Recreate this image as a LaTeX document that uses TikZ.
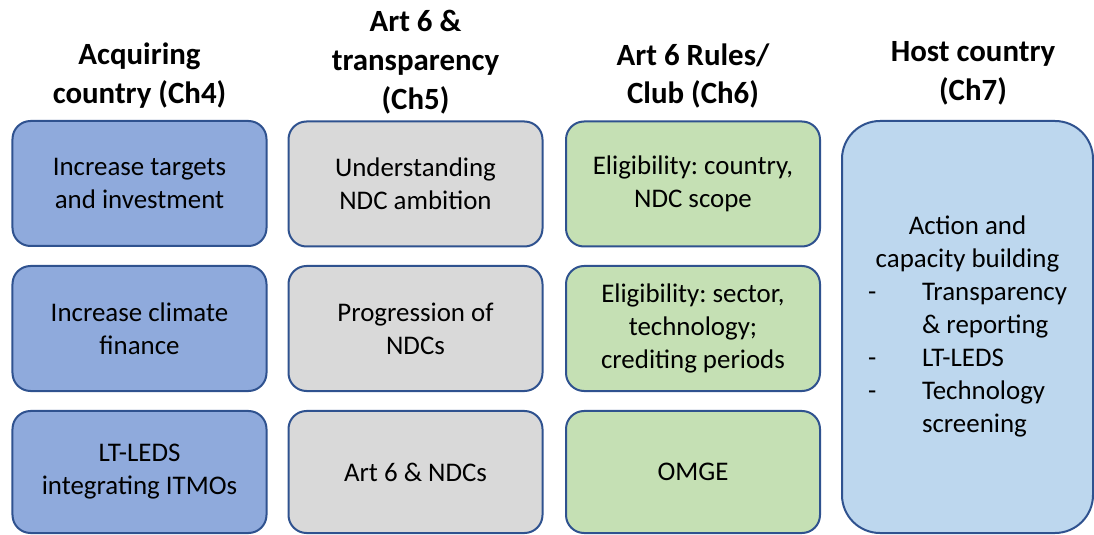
\documentclass[tikz,border=0pt]{standalone}
\usepackage{fontspec}
\setmainfont{Carlito}
\frenchspacing
\definecolor{bord}{HTML}{2F528F}
\definecolor{fblue}{HTML}{8FAADC}
\definecolor{fgray}{HTML}{D9D9D9}
\definecolor{fgreen}{HTML}{C5E0B4}
\definecolor{flight}{HTML}{BDD7EE}
\begin{document}
\begin{tikzpicture}[x=1bp,y=-1bp,
  box/.style={draw=bord, line width=2bp, rounded corners=18bp, align=center,
    inner sep=0pt, minimum width=254bp, minimum height=125bp,
    font=\fontsize{27}{33}\selectfont\frenchspacing},
  hostbox/.style={draw=bord, line width=2bp, rounded corners=38bp, align=center,
    inner sep=0pt, minimum width=251bp, minimum height=412bp,
    font=\fontsize{27}{33}\selectfont},
  head/.style={align=center, inner sep=0pt, font=\fontsize{31}{39}\bfseries\selectfont}]
\useasboundingbox (0,0) rectangle (1094,535);
% headers
\node[head] (h1) at (139.5,76) {Acquiring\\country (Ch4)};
\node[head] (h2) at (415.5,62) {Art 6 \&\\transparency\\(Ch5)};
\node[head] (h3) at (693,76) {Art 6 Rules/\\Club (Ch6)};
\node[head] (h4) at (973,73) {Host country\\(Ch7)};
% column 1
\node[box, fill=fblue] (a1) at (139.5,183.5) {Increase targets\\and investment};
\node[box, fill=fblue] (a2) at (139.5,328.5) {Increase climate\\finance};
\node[box, fill=fblue, minimum height=122bp] (a3) at (139.5,472) {LT-LEDS\\integrating ITMOs};
% column 2
\node[box, fill=fgray] (b1) at (415.5,184) {Understanding\\NDC ambition};
\node[box, fill=fgray] (b2) at (415.5,328.5) {Progression of\\NDCs};
\node[box, fill=fgray, minimum height=122bp] (b3) at (415.5,472) {Art 6 \& NDCs};
% column 3
\node[box, fill=fgreen] (c1) at (693,184) {Eligibility: country,\\NDC scope};
\node[box, fill=fgreen] (c2) at (693,328.5) {Eligibility: sector,\\technology;\\crediting periods};
\node[box, fill=fgreen, minimum height=122bp] (c3) at (693,472) {OMGE};
% column 4
\node[hostbox, fill=flight] (d) at (967.5,327) {%
\raisebox{-3bp}{\begin{tabular}{@{}p{54bp}@{}l@{}}
\multicolumn{2}{@{}c@{}}{Action and}\\
\multicolumn{2}{@{}c@{}}{capacity building}\\
-&Transparency\\
&\& reporting\\
-&LT-LEDS\\
-&Technology\\
&screening
\end{tabular}}};
\end{tikzpicture}
\end{document}
